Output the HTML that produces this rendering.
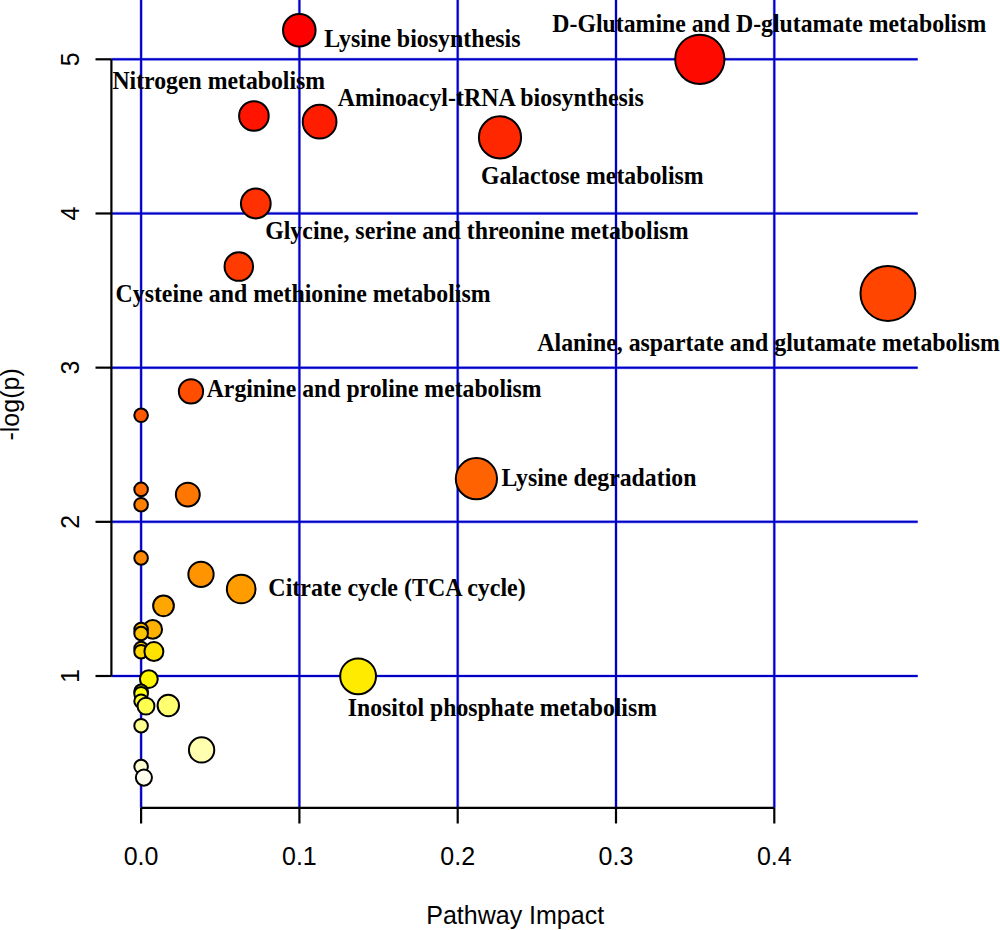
<!DOCTYPE html>
<html><head><meta charset="utf-8"><title>Pathway Impact</title><style>
html,body{margin:0;padding:0;background:#fff;width:1000px;height:930px;overflow:hidden}
svg{display:block}
</style></head><body>
<svg width="1000" height="930" viewBox="0 0 1000 930">
<rect width="1000" height="930" fill="#fff"/>
<g stroke="#B4B4FF" stroke-width="3.2" fill="none">
<line x1="141.10" y1="0" x2="141.10" y2="807.8"/>
<line x1="299.40" y1="0" x2="299.40" y2="807.8"/>
<line x1="457.70" y1="0" x2="457.70" y2="807.8"/>
<line x1="616.00" y1="0" x2="616.00" y2="807.8"/>
<line x1="774.30" y1="0" x2="774.30" y2="807.8"/>
<line x1="111.4" y1="676.00" x2="917.7" y2="676.00"/>
<line x1="111.4" y1="521.83" x2="917.7" y2="521.83"/>
<line x1="111.4" y1="367.65" x2="917.7" y2="367.65"/>
<line x1="111.4" y1="213.47" x2="917.7" y2="213.47"/>
<line x1="111.4" y1="59.30" x2="917.7" y2="59.30"/>
</g>
<g stroke="#0000C4" stroke-width="2.0" fill="none">
<line x1="141.10" y1="0" x2="141.10" y2="807.8"/>
<line x1="299.40" y1="0" x2="299.40" y2="807.8"/>
<line x1="457.70" y1="0" x2="457.70" y2="807.8"/>
<line x1="616.00" y1="0" x2="616.00" y2="807.8"/>
<line x1="774.30" y1="0" x2="774.30" y2="807.8"/>
<line x1="111.4" y1="676.00" x2="917.7" y2="676.00"/>
<line x1="111.4" y1="521.83" x2="917.7" y2="521.83"/>
<line x1="111.4" y1="367.65" x2="917.7" y2="367.65"/>
<line x1="111.4" y1="213.47" x2="917.7" y2="213.47"/>
<line x1="111.4" y1="59.30" x2="917.7" y2="59.30"/>
</g>
<g stroke="#000" stroke-width="2.2" fill="none" stroke-linecap="butt">
<line x1="111.4" y1="59.30" x2="111.4" y2="676.00"/>
<line x1="141.10" y1="807.8" x2="774.30" y2="807.8"/>
<line x1="95.5" y1="676.00" x2="111.4" y2="676.00"/>
<line x1="95.5" y1="521.83" x2="111.4" y2="521.83"/>
<line x1="95.5" y1="367.65" x2="111.4" y2="367.65"/>
<line x1="95.5" y1="213.47" x2="111.4" y2="213.47"/>
<line x1="95.5" y1="59.30" x2="111.4" y2="59.30"/>
<line x1="141.10" y1="807.8" x2="141.10" y2="823.5"/>
<line x1="299.40" y1="807.8" x2="299.40" y2="823.5"/>
<line x1="457.70" y1="807.8" x2="457.70" y2="823.5"/>
<line x1="616.00" y1="807.8" x2="616.00" y2="823.5"/>
<line x1="774.30" y1="807.8" x2="774.30" y2="823.5"/>
</g>
<g stroke="#000" stroke-width="2.0">
<circle cx="299.30" cy="30.30" r="16.28" fill="#FF0000"/>
<circle cx="699.80" cy="59.30" r="24.62" fill="#FF0A00"/>
<circle cx="253.90" cy="116.00" r="14.81" fill="#FF1400"/>
<circle cx="319.60" cy="121.70" r="16.87" fill="#FF1D00"/>
<circle cx="500.00" cy="137.40" r="21.08" fill="#FF2700"/>
<circle cx="255.80" cy="203.50" r="14.88" fill="#FF3100"/>
<circle cx="238.80" cy="266.60" r="14.25" fill="#FF3B00"/>
<circle cx="887.90" cy="293.50" r="27.41" fill="#FF4500"/>
<circle cx="191.00" cy="391.40" r="12.13" fill="#FF4E00"/>
<circle cx="141.10" cy="415.30" r="6.80" fill="#FF5800"/>
<circle cx="476.40" cy="478.70" r="20.61" fill="#FF6200"/>
<circle cx="141.10" cy="489.40" r="6.80" fill="#FF6C00"/>
<circle cx="187.80" cy="494.60" r="11.95" fill="#FF7600"/>
<circle cx="141.10" cy="504.70" r="6.80" fill="#FF8000"/>
<circle cx="141.10" cy="557.90" r="6.80" fill="#FF8900"/>
<circle cx="201.00" cy="574.30" r="12.64" fill="#FF9300"/>
<circle cx="241.20" cy="589.00" r="14.34" fill="#FF9D00"/>
<circle cx="163.50" cy="605.80" r="10.37" fill="#FFA700"/>
<circle cx="152.70" cy="629.40" r="9.37" fill="#FFB100"/>
<circle cx="141.10" cy="629.50" r="6.80" fill="#FFBA00"/>
<circle cx="141.10" cy="633.50" r="6.80" fill="#FFC400"/>
<circle cx="141.10" cy="648.50" r="6.80" fill="#FFCE00"/>
<circle cx="141.10" cy="651.70" r="6.80" fill="#FFD800"/>
<circle cx="153.90" cy="651.60" r="9.50" fill="#FFE200"/>
<circle cx="358.10" cy="676.30" r="17.91" fill="#FFEB00"/>
<circle cx="148.85" cy="679.10" r="8.90" fill="#FFF500"/>
<circle cx="141.10" cy="691.30" r="6.80" fill="#FFFF00"/>
<circle cx="141.10" cy="693.70" r="6.80" fill="#FFFF10"/>
<circle cx="141.10" cy="701.20" r="6.80" fill="#FFFF30"/>
<circle cx="146.00" cy="706.10" r="8.47" fill="#FFFF50"/>
<circle cx="168.30" cy="705.50" r="10.73" fill="#FFFF70"/>
<circle cx="141.10" cy="725.70" r="6.80" fill="#FFFF8F"/>
<circle cx="201.60" cy="749.90" r="12.66" fill="#FFFFAF"/>
<circle cx="141.10" cy="766.60" r="6.80" fill="#FFFFCF"/>
<circle cx="143.90" cy="777.60" r="8.06" fill="#FFFFEF"/>
</g>
<g font-family="Liberation Serif" font-weight="bold" font-size="24" fill="#000">
<text transform="translate(552.35,32) scale(0.9911,1.03)">D-Glutamine and D-glutamate metabolism</text>
<text transform="translate(324.35,47) scale(0.9974,1.03)">Lysine biosynthesis</text>
<text transform="translate(112.45,89) scale(0.9902,1.03)">Nitrogen metabolism</text>
<text transform="translate(337.85,106) scale(0.9961,1.03)">Aminoacyl-tRNA biosynthesis</text>
<text transform="translate(481.06,184) scale(0.9910,1.03)">Galactose metabolism</text>
<text transform="translate(265.16,239) scale(0.9953,1.03)">Glycine, serine and threonine metabolism</text>
<text transform="translate(115.56,302) scale(0.9923,1.03)">Cysteine and methionine metabolism</text>
<text transform="translate(537.35,351) scale(0.9930,1.03)">Alanine, aspartate and glutamate metabolism</text>
<text transform="translate(206.75,397) scale(0.9882,1.03)">Arginine and proline metabolism</text>
<text transform="translate(501.45,486) scale(0.9913,1.03)">Lysine degradation</text>
<text transform="translate(268.35,596) scale(0.9984,1.03)">Citrate cycle (TCA cycle)</text>
<text transform="translate(347.86,716) scale(0.9869,1.03)">Inositol phosphate metabolism</text>
</g>
<g font-family="Liberation Sans" font-size="25" fill="#000">
<text x="141.10" y="865" text-anchor="middle">0.0</text>
<text x="299.40" y="865" text-anchor="middle">0.1</text>
<text x="457.70" y="865" text-anchor="middle">0.2</text>
<text x="616.00" y="865" text-anchor="middle">0.3</text>
<text x="774.30" y="865" text-anchor="middle">0.4</text>
<text transform="translate(78.5,676.00) rotate(-90)" text-anchor="middle">1</text>
<text transform="translate(78.5,521.83) rotate(-90)" text-anchor="middle">2</text>
<text transform="translate(78.5,367.65) rotate(-90)" text-anchor="middle">3</text>
<text transform="translate(78.5,213.47) rotate(-90)" text-anchor="middle">4</text>
<text transform="translate(78.5,59.30) rotate(-90)" text-anchor="middle">5</text>
<text x="515.2" y="924" text-anchor="middle">Pathway Impact</text>
<text transform="translate(18.8,404.4) rotate(-90)" text-anchor="middle">-log(p)</text>
</g>
</svg>
</body></html>
